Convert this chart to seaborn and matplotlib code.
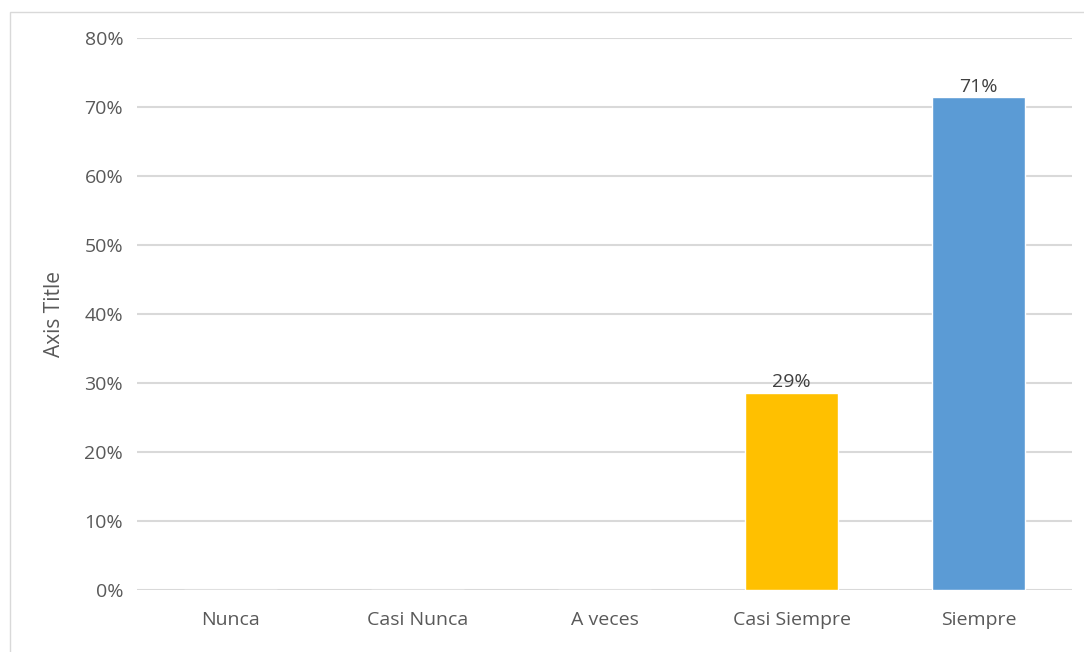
import matplotlib
matplotlib.use("Agg")
import matplotlib.pyplot as plt
from matplotlib.patches import Rectangle
from matplotlib.ticker import PercentFormatter
import seaborn as sns
import pandas as pd

categories = ["Nunca", "Casi Nunca", "A veces", "Casi Siempre", "Siempre"]
shares = [0.0, 0.0, 0.0, 2 / 7, 5 / 7]
bar_colors = ["#5B9BD5", "#5B9BD5", "#5B9BD5", "#FFC000", "#5B9BD5"]
y_ticks = [0.0, 0.1, 0.2, 0.3, 0.4, 0.5, 0.6, 0.7, 0.8]
y_title = "Axis Title"

sns.set_theme(style="white")
plt.rcParams["font.family"] = ["Open Sans", "DejaVu Sans"]
text_gray = "#595959"

df = pd.DataFrame({"category": categories, "share": shares})

fig = plt.figure(figsize=(10.84, 6.52), dpi=100)
ax = fig.add_axes([0.1264, 0.0951, 0.8626, 0.8466])

sns.barplot(data=df, x="category", y="share", hue="category",
            palette=dict(zip(categories, bar_colors)), legend=False,
            width=0.5, saturation=1, ax=ax, zorder=3)

ax.set_ylim(0, 0.8)
ax.set_yticks(y_ticks)
ax.yaxis.set_major_formatter(PercentFormatter(1.0, decimals=0))
ax.grid(axis="y", color="#D9D9D9", linewidth=1.5, zorder=0)
ax.set_axisbelow(True)
for s in ax.spines.values():
    s.set_visible(False)
ax.tick_params(axis="both", length=0, labelsize=14, colors=text_gray)
ax.tick_params(axis="y", pad=10)
ax.tick_params(axis="x", pad=15)
ax.set_xlabel("")
ax.set_ylabel(y_title, fontsize=15, color=text_gray, labelpad=14)

for i, v in enumerate(shares):
    if v > 0:
        ax.annotate(f"{v:.0%}", (i, v), xytext=(0, 1), textcoords="offset points",
                    ha="center", va="bottom", fontsize=14, color="#404040")

# light chart-area frame
fig.patches.append(Rectangle((10 / 1084, -0.01), 1.1, 1 - 12 / 652 + 0.01,
                             transform=fig.transFigure, fill=False,
                             edgecolor="#D9D9D9", linewidth=1.0))

fig.savefig("out.png", dpi=100, facecolor="white")
